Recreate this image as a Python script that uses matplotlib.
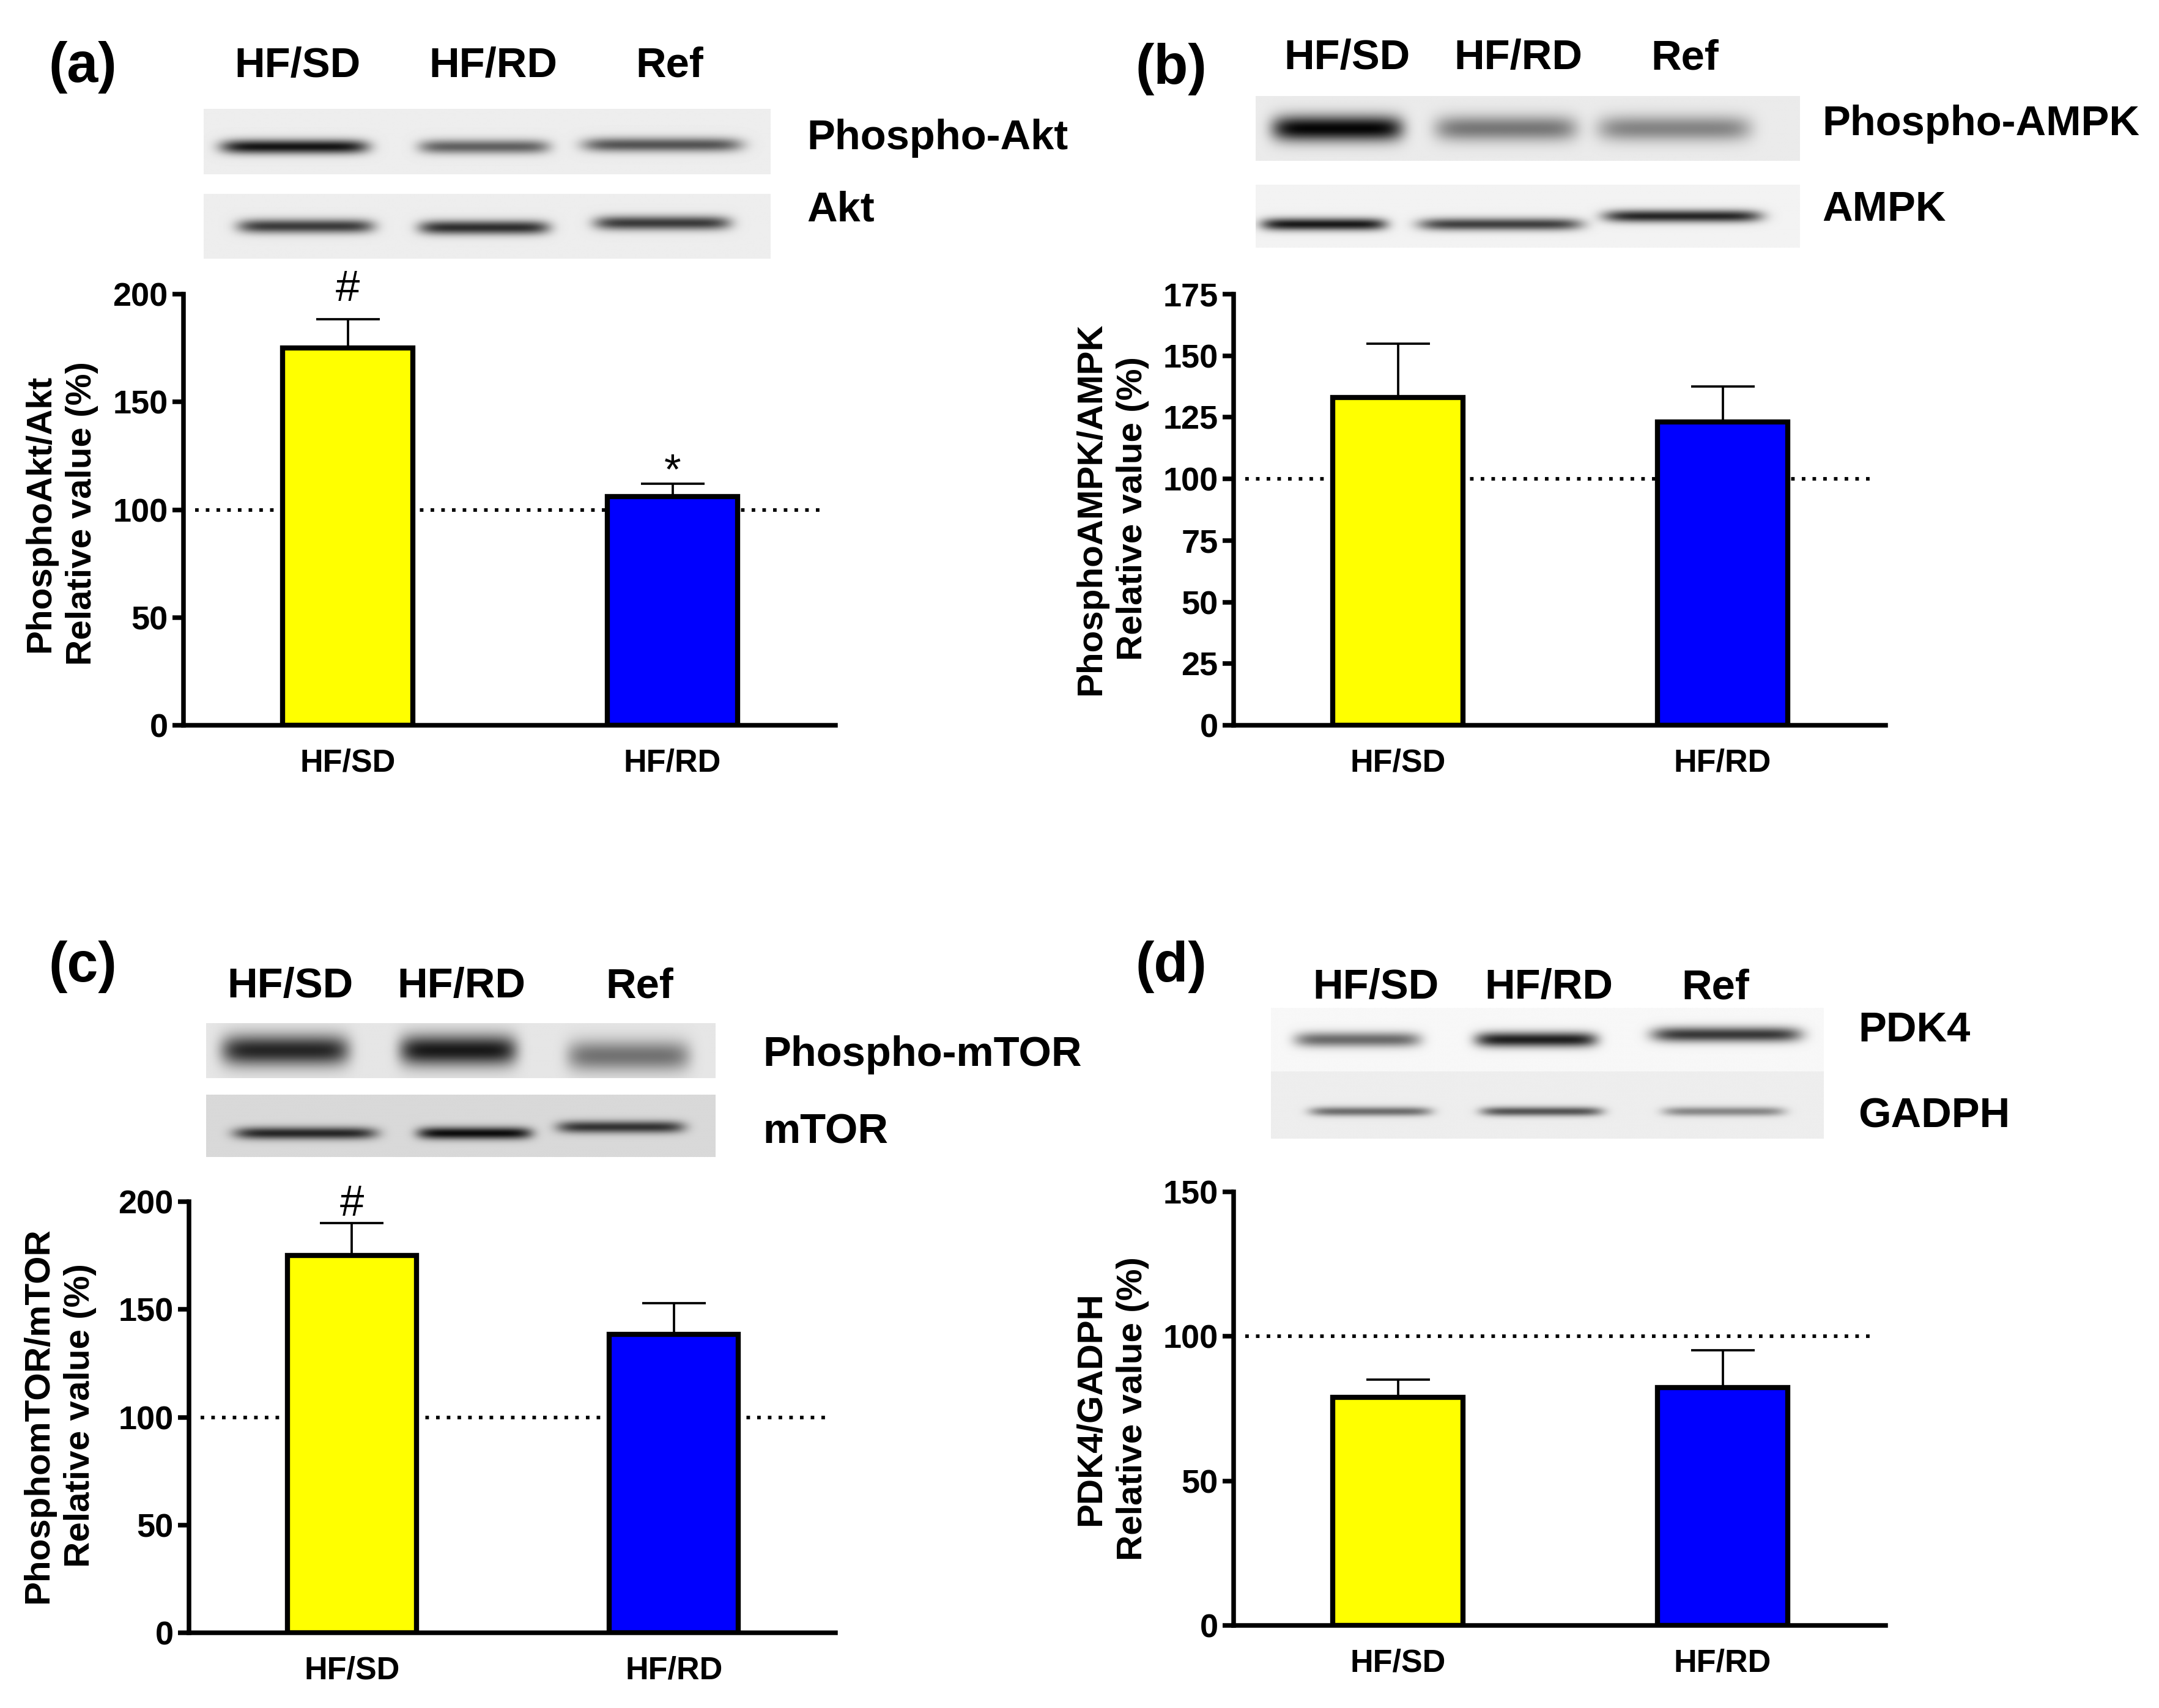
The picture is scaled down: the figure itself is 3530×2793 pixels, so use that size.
import matplotlib.pyplot as plt
import numpy as np

W, H = 3530, 2793

groups = ["HF/SD", "HF/RD"]
lanes = ["HF/SD", "HF/RD", "Ref"]
bar_colors = ["#ffff00", "#0000ff"]

# relative values (% of Ref)
akt_mean = [175, 106]
akt_sem = [13.5, 6]
ampk_mean = [133, 123]
ampk_sem = [22, 14.5]
mtor_mean = [175, 138.5]
mtor_sem = [15, 14.5]
pdk4_mean = [79, 82.3]
pdk4_sem = [6, 12.8]

# significance marks above the bars
akt_marks = ["#", "*"]
ampk_marks = ["", ""]
mtor_marks = ["#", ""]
pdk4_marks = ["", ""]

# blot band look: lane extents (fraction of strip), darkness, band centre, band spread, background
akt_blots = [
    dict(lanes=[(0.03, 0.29), (0.38, 0.61), (0.67, 0.95)], dark=[0.85, 0.55, 0.6], yc=[0.58, 0.58, 0.55], sig=0.11, bg=0.93),
    dict(lanes=[(0.06, 0.30), (0.38, 0.61), (0.69, 0.93)], dark=[0.7, 0.75, 0.7], yc=[0.5, 0.52, 0.45], sig=0.11, bg=0.93),
]
ampk_blots = [
    dict(lanes=[(0.03, 0.27), (0.33, 0.59), (0.63, 0.91)], dark=[0.9, 0.45, 0.4], yc=[0.5, 0.5, 0.5], sig=0.2, bg=0.92),
    dict(lanes=[(0.01, 0.24), (0.30, 0.60), (0.64, 0.93)], dark=[0.85, 0.7, 0.8], yc=[0.63, 0.63, 0.5], sig=0.1, bg=0.95),
]
mtor_blots = [
    dict(lanes=[(0.03, 0.28), (0.38, 0.61), (0.71, 0.95)], dark=[0.75, 0.8, 0.45], yc=[0.5, 0.5, 0.6], sig=0.28, bg=0.9),
    dict(lanes=[(0.055, 0.335), (0.415, 0.64), (0.69, 0.94)], dark=[0.7, 0.8, 0.65], yc=[0.62, 0.62, 0.52], sig=0.1, bg=0.85),
]
pdk4_blots = [
    dict(lanes=[(0.043, 0.27), (0.37, 0.59), (0.69, 0.96)], dark=[0.55, 0.85, 0.75], yc=[0.5, 0.5, 0.42], sig=0.12, bg=0.97),
    dict(lanes=[(0.07, 0.29), (0.38, 0.60), (0.71, 0.93)], dark=[0.5, 0.6, 0.4], yc=[0.6, 0.6, 0.6], sig=0.07, bg=0.93),
]

plt.rcParams['font.family'] = ['Liberation Sans', 'DejaVu Sans']
plt.rcParams['font.weight'] = 'bold'

fig = plt.figure(figsize=(W / 300, H / 300), dpi=300)


def px_axes(l, t, r, b):
    return fig.add_axes([l / W, 1 - b / H, (r - l) / W, (b - t) / H])


def px_text(x, y, s, **kw):
    fig.text(x / W, 1 - y / H, s, **kw)


def blot_image(spec, nx=500, ny=120):
    x = np.linspace(0, 1, nx)[None, :]
    y = np.linspace(0, 1, ny)[:, None]
    img = np.full((ny, nx), spec['bg'])
    for (l, r), d, yc in zip(spec['lanes'], spec['dark'], spec['yc']):
        c = (l + r) / 2
        hw = (r - l) / 2
        hx = np.exp(-((x - c) / hw) ** 8)
        vy = np.exp(-((y - yc) / spec['sig']) ** 2)
        img = img - d * hx * vy
    return np.clip(img, 0, 1)


def draw_blot(spec, box):
    bx = px_axes(*box)
    bx.imshow(blot_image(spec), cmap='gray', vmin=0, vmax=1, aspect='auto',
              interpolation='bilinear', extent=(0, 1, 1, 0))
    bx.axis('off')


def draw_bars(box, mean, sem, marks, ymax, ystep, mark_off):
    ax = px_axes(*box)
    x = np.arange(len(groups))
    ax.plot([-0.47, 1.47], [100, 100], ls=(0, (1, 2)), color='k', lw=1.4, zorder=1)
    ax.bar(x, mean, width=0.4, color=bar_colors, edgecolor='k', linewidth=2.0, zorder=3)
    ax.errorbar(x, mean, yerr=[np.zeros(len(x)), sem], fmt='none', ecolor='k',
                elinewidth=0.9, capsize=12.5, capthick=0.9, zorder=4)
    for i, m in enumerate(marks):
        if m:
            ax.annotate(m, xy=(x[i], mean[i] + sem[i]), xytext=(0, mark_off[i]),
                        textcoords='offset points', ha='center', va='baseline',
                        fontsize=17, fontweight='normal', annotation_clip=False)
    ax.set_xlim(-0.506, 1.502)
    ax.set_ylim(0, ymax)
    ax.set_yticks(np.arange(0, ymax + 1, ystep))
    ax.set_xticks(x)
    ax.set_xticklabels(groups)
    ax.spines['top'].set_visible(False)
    ax.spines['right'].set_visible(False)
    ax.spines['left'].set_linewidth(1.8)
    ax.spines['bottom'].set_linewidth(1.8)
    ax.tick_params(axis='y', length=4.3, width=1.8, pad=1.8, labelsize=13)
    ax.tick_params(axis='x', length=0, pad=9, labelsize=12.5)
    return ax


def headers(xs, y):
    for xx, s in zip(xs, lanes):
        px_text(xx, y, s, ha='center', va='center', fontsize=16.5)


def ylabel(x, y, s):
    px_text(x, y, s, rotation=90, ha='center', va='center', multialignment='center',
            fontsize=14, linespacing=1.35)


# panel (a)
px_text(135, 110, "(a)", ha='center', va='center', fontsize=22)
headers([486, 806, 1095], 108)
draw_blot(akt_blots[0], (333, 178, 1259, 285))
draw_blot(akt_blots[1], (333, 317, 1259, 423))
px_text(1319, 226, "Phospho-Akt", ha='left', va='center', fontsize=16.5)
px_text(1319, 343, "Akt", ha='left', va='center', fontsize=16.5)
draw_bars((300, 481, 1366, 1186), akt_mean, akt_sem, akt_marks, 200, 50, [7, 0])
ylabel(100, 840, "PhosphoAkt/Akt\nRelative value (%)")

# panel (b)
px_text(1915, 113, "(b)", ha='center', va='center', fontsize=22)
headers([2202, 2482, 2755], 95)
draw_blot(ampk_blots[0], (2053, 157, 2943, 263))
draw_blot(ampk_blots[1], (2053, 302, 2943, 405))
px_text(2979, 203, "Phospho-AMPK", ha='left', va='center', fontsize=16.5)
px_text(2979, 343, "AMPK", ha='left', va='center', fontsize=16.5)
draw_bars((2017, 481, 3083, 1186), ampk_mean, ampk_sem, ampk_marks, 175, 25, [0, 0])
ylabel(1818, 832, "PhosphoAMPK/AMPK\nRelative value (%)")

# panel (c)
px_text(135, 1581, "(c)", ha='center', va='center', fontsize=22)
headers([474, 754, 1046], 1613)
draw_blot(mtor_blots[0], (337, 1673, 1170, 1763))
draw_blot(mtor_blots[1], (337, 1790, 1170, 1892))
px_text(1247, 1725, "Phospho-mTOR", ha='left', va='center', fontsize=16.5)
px_text(1247, 1852, "mTOR", ha='left', va='center', fontsize=16.5)
draw_bars((309, 1965, 1366, 2670), mtor_mean, mtor_sem, mtor_marks, 200, 50, [3, 0])
ylabel(97, 2315, "PhosphomTOR/mTOR\nRelative value (%)")

# panel (d)
px_text(1915, 1581, "(d)", ha='center', va='center', fontsize=22)
headers([2249, 2532, 2805], 1615)
draw_blot(pdk4_blots[0], (2078, 1648, 2982, 1752))
draw_blot(pdk4_blots[1], (2078, 1752, 2982, 1862))
px_text(3038, 1685, "PDK4", ha='left', va='center', fontsize=16.5)
px_text(3038, 1825, "GADPH", ha='left', va='center', fontsize=16.5)
draw_bars((2017, 1949, 3083, 2658), pdk4_mean, pdk4_sem, pdk4_marks, 150, 50, [0, 0])
ylabel(1818, 2304, "PDK4/GADPH\nRelative value (%)")

fig.savefig("out.png", dpi=300)
